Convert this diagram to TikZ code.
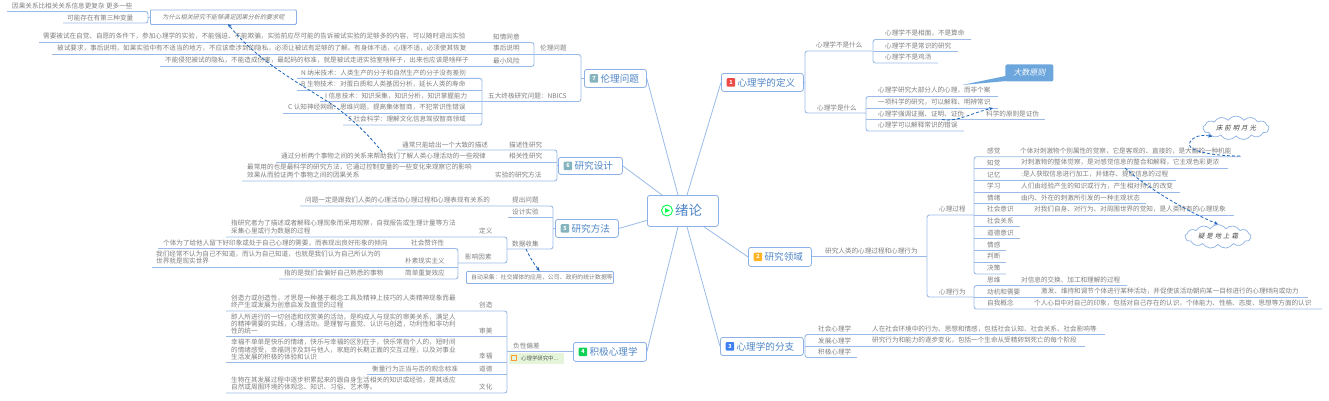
\documentclass[tikz,border=0pt]{standalone}
\usepackage{fontspec}
\setmainfont{Noto Sans CJK SC}
\newfontfamily\slcjk[FakeSlant=0.22]{Noto Sans CJK SC}
\usetikzlibrary{arrows.meta,shapes.symbols}
\definecolor{txtgray}{HTML}{808080}
\definecolor{linkblue}{HTML}{9ABBE8}
\definecolor{boxblue}{HTML}{8DB1E4}
\definecolor{titleblue}{HTML}{4F86C6}
\definecolor{dashblue}{HTML}{1B62B8}
\definecolor{calloutblue}{HTML}{6CA6DC}
\definecolor{bgrey}{HTML}{86B4BE}
\definecolor{bred}{HTML}{EC4B45}
\definecolor{borange}{HTML}{FFB224}
\definecolor{bblue}{HTML}{3F7FEF}
\definecolor{bgreen}{HTML}{0FCF55}
\tikzset{
 txt/.style={anchor=west,inner sep=0pt,text=txtgray,align=left,font=\fontsize{6.6}{7.3}\selectfont},
 link/.style={draw=linkblue,line width=0.9pt,rounded corners=2.5pt},
 spoke/.style={draw=linkblue,line width=0.8pt},
 mainbox/.style={draw=boxblue,line width=0.8pt,fill=white,rounded corners=2.5pt,inner sep=0pt,anchor=north west},
 title/.style={anchor=west,inner sep=0pt,text=titleblue,font=\fontsize{9.6}{10}\selectfont},
 badge/.style={anchor=west,inner sep=0pt,minimum size=8.5pt,rounded corners=1pt,text=white,font=\bfseries\fontsize{5.5}{6}\selectfont},
 jump/.style={draw=dashblue,line width=0.8pt,densely dashed,-{Stealth[length=4pt,width=3.5pt]}},
 puff/.style={cloud,cloud puffs=13,cloud puff arc=110,aspect=3.3,draw=boxblue,fill=white,line width=0.7pt,inner sep=0pt,text=black!75,font=\slcjk\fontsize{6.4}{7}\selectfont},
 notebox/.style={draw=boxblue,line width=0.8pt,fill=white,rounded corners=1pt,inner sep=0pt,anchor=north west,text=txtgray},
}
\newcommand\Tx[4]{\node[txt] (#1) at (#2,#3) {#4};}
\newcommand\Ul[4]{\coordinate (#1-l) at (#2,#4);\coordinate (#1-r) at (#3,#4);}
\newcommand\Li[1]{\draw[link] (#1-l) -- (#1-r);}
\newcommand\BrL[2]{\draw[link] (#1-l) -- (#1-r) -- (#2-r) -- (#2-l);}
\newcommand\BrR[2]{\draw[link] (#1-r) -- (#1-l) -- (#2-l) -- (#2-r);}
\newcommand\Topic[8]{%
 \node[mainbox,minimum width=#4pt-#2pt,minimum height=#5pt-#3pt] (#1) at (#2,#3) {};
 \node[badge,fill=#6] (#1b) at ([xshift=5.5pt]#1.west) {#7};
 \node[title] (#1t) at ([xshift=2pt]#1b.east) {#8};}
\begin{document}
\begin{tikzpicture}[x=1pt,y=-1pt]
\useasboundingbox[fill=white] (0,0) rectangle (1329,400);

% ---------- centre and main topics
\node[mainbox,minimum width=71pt,minimum height=31pt] (root) at (647,195) {};
\Topic{b1}{721}{73}{803}{91}{bred}{1}{心理学的定义}
\Topic{b2}{748}{247}{811}{266}{borange}{2}{研究领域}
\Topic{b3}{720}{337}{803}{355}{bblue}{3}{心理学的分支}
\Topic{b4}{573}{342}{646}{361}{bgreen}{4}{积极心理学}
\Topic{b5}{555}{219}{618}{237}{bgrey}{5}{研究方法}
\Topic{b6}{558}{157}{622}{174}{bgrey}{6}{研究设计}
\Topic{b7}{584}{69}{646}{87}{bgrey}{7}{伦理问题}
\node[circle,draw=green!70!cyan,line width=0.9pt,minimum size=11pt,inner sep=0pt] (play) at (667,210.5) {};
\fill[green!70!cyan] ([xshift=-2pt,yshift=2.4pt]play.center) -- ([xshift=3pt]play.center) -- ([xshift=-2pt,yshift=-2.4pt]play.center) -- cycle;
\node[title,font=\fontsize{13.5}{14}\selectfont] (roott) at (675,210.5) {绪论};

\draw[spoke] (root.north west) ++(31,0) coordinate (r7) -- (b7.east);
\draw[spoke] (root.north west) ++(15,0) coordinate (r6) -- (b6.east);
\draw[spoke] (root.west) ++(0,9.5) coordinate (r5) -- (b5.east);
\draw[spoke] (root.south west) ++(31,0) coordinate (r4) -- (b4.east);
\draw[spoke] (root.south west) ++(40,0) coordinate (r3) -- (b3.west);
\draw[spoke] (root.south west) ++(57,0) coordinate (r2) -- (b2.west);
\draw[spoke] (root.north west) ++(40,0) coordinate (r1) -- (b1.west);

% ---------- 1 definition
\Tx{a1}{816}{45}{心理学不是什么}\Ul{a1}{805}{872}{51}
\Tx{a2}{817}{107.5}{心理学是什么}\Ul{a2}{805}{866}{113}
\BrR{a1}{a2}
\draw[link] (b1.east) -- (b1.east -| a1-l);
\Tx{a11}{885}{33.5}{心理学不是相面，不是算命}\Ul{a11}{873}{971}{39.5}
\Tx{a12}{885}{45.5}{心理学不是常识的研究}\Ul{a12}{873}{958}{51.5}
\Tx{a13}{885}{57}{心理学不是鸡汤}\Ul{a13}{873}{938}{63}
\BrR{a11}{a13}\Li{a12}
\Tx{a21}{878}{90}{心理学研究大部分人的心理，而非个案}\Ul{a21}{866}{998}{96.5}
\Tx{a22}{878}{102}{一项科学的研究，可以解释、明辨常识}\Ul{a22}{866}{998}{108}
\Tx{a23}{878}{113.5}{心理学强调证据、证明、证伪}\Ul{a23}{866}{1045}{119.5}
\Tx{a23x}{986}{113.5}{科学的原则是证伪}
\Tx{a24}{878}{125}{心理学可以解释常识的错误}\Ul{a24}{866}{964}{131}
\BrR{a21}{a24}\Li{a22}\Li{a23}
\coordinate (tailtip) at (962,85);
\node[notebox,draw=none,fill=calloutblue,minimum width=48pt,minimum height=17pt,rounded corners=2pt] (big) at (1005,64) {};
\fill[calloutblue] (tailtip) -- ([xshift=1pt,yshift=-3pt]big.west) -- ([xshift=4pt,yshift=1pt]big.south west) -- cycle;
\node[inner sep=0pt,text=white,font=\slcjk\fontsize{8}{9}\selectfont] (bigt) at (big.center) {大数原则};
\coordinate (j1a) at (942,119.5);\coordinate (j1b) at (993,108);
\draw[jump] (j1a) .. controls (958,122) and (968,114) .. (j1b);

% ---------- 2 domain
\Tx{c0}{825}{250.5}{研究人类的心理过程和心理行为}\Ul{c0}{811}{927}{256.5}
\draw[link] (b2.east |- c0-l) -- (c0-r);
\Tx{c1}{939}{209}{心理过程}\Ul{c1}{927}{974}{215}
\Tx{c2}{939}{291.5}{心理行为}\Ul{c2}{927}{974}{297}
\BrR{c1}{c2}
\Tx{p1}{987}{151}{感觉}\Tx{p1x}{1020}{151}{个体对刺激物个别属性的觉察，它是客观的、直接的，是大脑的一种机能}\Ul{p1}{974}{1241}{156.7}
\Tx{p2}{987}{162.5}{知觉}\Tx{p2x}{1021}{162.5}{对刺激物的整体觉察，是对感觉信息的整合和解释，它主观色彩更浓}\Ul{p2}{974}{1228}{168.5}
\Tx{p3}{987}{174.5}{记忆}\Tx{p3x}{1021}{174.5}{:是人获取信息进行加工，并储存、提取信息的过程}\Ul{p3}{974}{1176}{180.5}
\Tx{p4}{987}{186}{学习}\Tx{p4x}{1021}{186}{人们由经验产生的知识或行为，产生相对持久的改变}\Ul{p4}{974}{1180}{192}
\Tx{p5}{987}{197.5}{情绪}\Tx{p5x}{1021}{197.5}{由内、外在的刺激所引发的一种主观状态}\Ul{p5}{974}{1146}{203.5}
\Tx{p6}{987}{209}{社会意识}\Tx{p6x}{1034}{209}{对我们自身、对行为、对周围世界的觉知，是人类特有的心理现象}\Ul{p6}{974}{1234}{215}
\Tx{p7}{987}{220.5}{社会关系}\Ul{p7}{974}{1020}{226.5}
\Tx{p8}{987}{233}{道德意识}\Ul{p8}{974}{1020}{238.7}
\Tx{p9}{987}{244.5}{情感}\Ul{p9}{974}{1006}{250.5}
\Tx{p10}{987}{256}{判断}\Ul{p10}{974}{1006}{262}
\Tx{p11}{987}{268}{决策}\Ul{p11}{974}{1006}{274}
\BrR{p1}{p11}\Li{p2}\Li{p3}\Li{p4}\Li{p5}\Li{p6}\Li{p7}\Li{p8}\Li{p9}\Li{p10}
\Tx{q1}{987}{280}{思维}\Tx{q1x}{1021}{280}{对信息的交换、加工和理解的过程}\Ul{q1}{974}{1127}{285.5}
\Tx{q2}{987}{291.5}{动机和需要}\Tx{q2x}{1041}{291.5}{激发、维持和调节个体进行某种活动，并促使该活动朝向某一目标进行的心理倾向或动力}\Ul{q2}{974}{1308}{297.5}
\Tx{q3}{987}{303}{自我概念}\Tx{q3x}{1034}{303}{个人心目中对自己的印象，包括对自己存在的认识，个体能力、性格、态度、思想等方面的认识}\Ul{q3}{974}{1322}{309}
\BrR{q1}{q3}\Li{q2}
\node[puff,minimum width=66pt,minimum height=20pt] (moon) at (1236,128) {床\kern2pt 前\kern2pt 明\kern2pt 月\kern2pt 光};
\node[puff,minimum width=66pt,minimum height=20pt] (frost) at (1218,236.5) {疑\kern2pt 是\kern2pt 地\kern2pt 上\kern2pt 霜};
\coordinate (j2a) at (1240,156);\coordinate (j3a) at (1125,168);
\draw[jump] (j2a) .. controls (1210,156) and (1184,150) .. (1190,142) .. controls (1193,137) and (1200,134) .. (moon.south west);
\draw[jump] (j3a) .. controls (1150,190) and (1185,210) .. (frost.north);

% ---------- 3 branches
\Tx{d1}{818}{329}{社会心理学}\Tx{d1x}{872}{329}{人在社会环境中的行为、思想和情感，包括社会认知、社会关系、社会影响等}\Ul{d1}{805}{1105}{334.5}
\Tx{d2}{818}{340.5}{发展心理学}\Tx{d2x}{872}{340.5}{研究行为和能力的逐步变化，包括一个生命从受精卵到死亡的每个阶段}\Ul{d2}{805}{1085}{346}
\Tx{d3}{818}{352}{积极心理学}\Ul{d3}{805}{857}{357.5}
\BrR{d1}{d3}\Li{d2}

% ---------- 4 positive psychology
\Tx{e0}{513}{346}{负性偏差}\Ul{e0}{507}{573}{351}
\draw[link] (e0-l) -- (b4.west |- e0-l);
\Tx{e1}{479}{305}{创造}\Ul{e1}{226}{507}{311}
\Tx{e1x}{231}{301.5}{创造力或创造性，才思是一种基于概念工具及精神上技巧的人类精神现象而最\\终产生或发展为创意启发及直觉的过程}
\Tx{e2}{479}{330.5}{审美}\Ul{e2}{226}{507}{336.7}
\Tx{e2x}{231}{324}{即人所进行的一切创造和欣赏美的活动，是构成人与现实的审美关系，满足人\\的精神需要的实践，心理活动。是理智与直觉、认识与创造，功利性和非功利\\性的统一}
\Tx{e3}{479}{356}{幸福}\Ul{e3}{226}{507}{362}
\Tx{e3x}{231}{349.5}{幸福不单单是快乐的情绪，快乐与幸福的区别在于，快乐常指个人的，短时间\\的情绪感受，幸福则涉及到与他人，家庭的长期正面的交互过程，以及对事业\\生活发展的积极的体验和认识}
\Tx{e4}{479}{368.5}{道德}\Tx{e4x}{372}{368.5}{衡量行为正当与否的观念标准}\Ul{e4}{367}{507}{374}
\Tx{e5}{479}{387}{文化}\Ul{e5}{226}{507}{393}
\Tx{e5x}{231}{383.5}{生物在其发展过程中逐步积累起来的跟自身生活相关的知识或经验，是其适应\\自然或周围环境的体观念、知识、习俗、艺术等。}
\BrL{e1}{e5}\Li{e2}\Li{e3}\Li{e4}
\node[inner sep=0pt,anchor=north west,fill=yellow!30!green!15,minimum width=55pt,minimum height=11pt] (note) at (508.5,352.5) {};
\node[draw=orange!80,line width=0.5pt,inner sep=0pt,minimum width=5pt,minimum height=5pt] (noteicon) at (514,358) {};
\node[inner sep=0pt,anchor=west,text=black!65,font=\fontsize{5.4}{6}\selectfont] (notet) at (521,358) {心理学研究中...};

% ---------- 5 methods
\Tx{f1}{512}{200}{提出问题}\Tx{f1x}{305}{200}{问题一定是跟我们人类的心理活动心理过程和心理表现有关系的}\Ul{f1}{300}{553}{206}
\Tx{f2}{512}{212}{设计实验}\Ul{f2}{508}{553}{217.5}
\Tx{f3}{512}{244}{数据收集}\Ul{f3}{507}{553}{249}
\BrL{f1}{f3}\Li{f2}
\draw[link] (b5.west) -- (b5.west -| f1-r);
\Tx{g1}{479}{230.5}{定义}\Ul{g1}{226}{507}{237}
\Tx{g1x}{231}{227}{指研究者为了描述或者解释心理现象而采用观察，自我报告或生理计量等方法\\采集心里或行为数据的过程}
\Tx{g2}{465}{257}{影响因素}\Ul{g2}{458}{507}{263}
\BrL{g1}{g2}
\Tx{h1}{411}{243}{社会赞许性}\Tx{h1x}{163}{243}{个体为了给他人留下好印象或处于自己心理的需要，而表现出良好形象的倾向}\Ul{h1}{158}{458}{248.5}
\Tx{h2}{405}{261}{朴素现实主义}\Ul{h2}{152}{458}{267}
\Tx{h2x}{156}{257.5}{我们经常不认为自己不知道，而认为自己知道，也就是我们认为自己所认为的\\世界就是现实世界}
\Tx{h3}{405}{273}{简单重复效应}\Tx{h3x}{284}{273}{指的是我们会偏好自己熟悉的事物}\Ul{h3}{279}{458}{279}
\BrL{h1}{h3}\Li{h2}
\node[notebox,minimum width=147pt,minimum height=12pt] (auto) at (466,271) {};
\Tx{autot}{471}{277}{\fontsize{5.9}{6.5}\selectfont 自动采集：社交媒体的应用，公司、政府的统计数据等}
\coordinate (j4a) at (526,249);
\draw[jump] (j4a) .. controls (530,258) and (535,265) .. (auto.north -| 539.5,0);

% ---------- 6 design
\Tx{i1}{509}{144.5}{描述性研究}\Tx{i1x}{402}{144.5}{通常只能给出一个大致的描述}\Ul{i1}{397}{557}{150}
\Tx{i2}{509}{156}{相关性研究}\Tx{i2x}{281}{156}{通过分析两个事物之间的关系来帮助我们了解人类心理活动的一些规律}\Ul{i2}{276}{557}{162}
\Tx{i3}{495}{175}{实验的研究方法}\Ul{i3}{242}{557}{181}
\Tx{i3x}{247}{171}{最常用的也是最科学的研究方法，它通过控制变量的一些变化来观察它的影响\\效果从而验证两个事物之间的因果关系}
\BrL{i1}{i3}\Li{i2}
\draw[link] (b6.west) -- (b6.west -| i1-r);

% ---------- 7 ethics
\Tx{k1}{540}{48}{伦理问题}\Ul{k1}{534}{581}{54.5}
\Tx{k2}{488}{96}{五大终极研究问题：NBICS}\Ul{k2}{482}{581}{101.5}
\BrL{k1}{k2}
\draw[link] (b7.west) -- (b7.west -| k1-r);
\Tx{m1}{493}{36.5}{知情同意}\Tx{m1x}{43}{36.5}{需要被试在自觉、自愿的条件下，参加心理学的实验，不能强迫、不能欺骗，实验前应尽可能的告诉被试实验的足够多的内容，可以随时退出实验}\Ul{m1}{39}{534}{42.5}
\Tx{m2}{493}{48.5}{事后说明}\Tx{m2x}{57}{48.5}{被试要求，事后说明，如果实验中有不适当的地方，不应该牵涉到的隐私，必须让被试有足够的了解。有身体不适，心理不适，必须使其恢复}\Ul{m2}{52}{534}{54.5}
\Tx{m3}{493}{60.5}{最小风险}\Tx{m3x}{165}{60.5}{不能侵犯被试的隐私，不能造成伤害，最起码的标准，就是被试走进实验室啥样子，出来也应该是啥样子}\Ul{m3}{160}{534}{66.5}
\BrL{m1}{m3}\Li{m2}
\Tx{n1}{301}{72.5}{N 纳米技术：人类生产的分子和自然生产的分子没有差别}\Ul{n1}{297}{482}{78.3}
\Tx{n2}{301}{84}{B 生物技术：对蛋白质和人类基因分析，延长人类的寿命}\Ul{n2}{297}{482}{90}
\Tx{n3}{325}{96}{I 信息技术：知识采集，知识分析，知识掌握能力}\Ul{n3}{320}{482}{101.5}
\Tx{n4}{288}{107.5}{C 认知神经网络：思维问题，提高集体智商，不犯常识性错误}\Ul{n4}{283}{482}{113}
\Tx{n5}{348}{119}{S 社会科学：理解文化信息驾驭智商领域}\Ul{n5}{343}{482}{125}
\BrL{n1}{n5}\Li{n2}\Li{n3}\Li{n4}

% ---------- top left box
\Tx{s1}{12}{5.5}{因果关系比相关关系信息更复杂 更多一些}\Ul{s1}{7}{148}{11.5}
\Tx{s2}{67}{17.5}{可能存在有第三种变量}\Ul{s2}{63}{148}{23}
\BrL{s1}{s2}
\node[notebox,minimum width=146pt,minimum height=14.5pt] (why) at (150,9.5) {};
\node[inner sep=0pt,text=txtgray,font=\slcjk\fontsize{6.1}{7}\selectfont] (whyt) at (why.center) {为什么相关研究不能够满足因果分析的要求呢};
\draw[link] (why.west) -- (why.west -| s1-r);
\coordinate (j5a) at (382,152);
\draw[jump] (j5a) .. controls (368,133) and (345,113) .. (330,103) .. controls (290,78) and (255,58) .. (228,24);
\end{tikzpicture}
\end{document}
